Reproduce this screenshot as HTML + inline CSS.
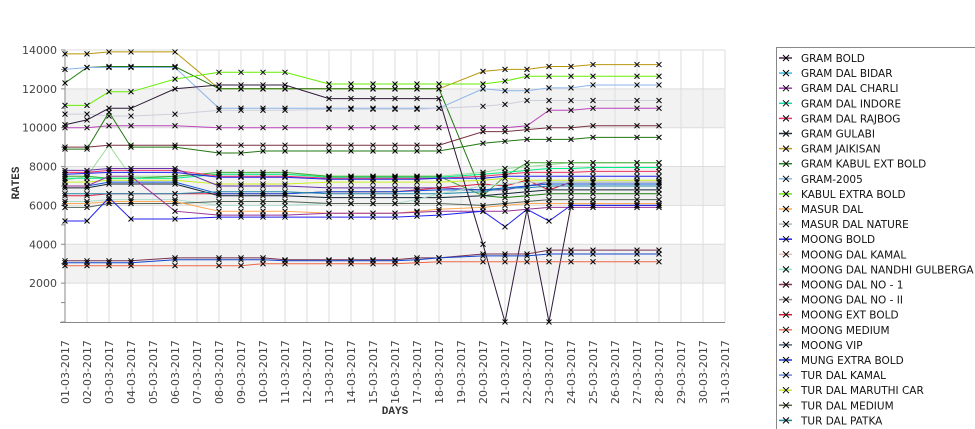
<!DOCTYPE html>
<html><head><meta charset="utf-8">
<style>
html,body{margin:0;padding:0;background:#fff;width:975px;height:429px;overflow:hidden}
svg{display:block;font-family:"DejaVu Sans","Liberation Sans",sans-serif}
</style></head><body>
<svg id="s" width="975" height="429" xmlns="http://www.w3.org/2000/svg"></svg>
<script>
const S=document.getElementById('s');let h='';
const X0=65,DX=22,Y0=322,K=19.43/1000;
const xp=i=>X0+DX*i, yp=v=>Y0-v*K;
// bands
[[2000,4000],[6000,8000],[10000,12000]].forEach(b=>{h+=`<rect x="65" y="${yp(b[1])}" width="660" height="${(b[1]-b[0])*K}" fill="#f2f2f2"/>`});
for(let i=0;i<=30;i++)h+=`<line x1="${xp(i)}" y1="50" x2="${xp(i)}" y2="322" stroke="#dddddd"/>`;
for(let v=2000;v<=14000;v+=2000)h+=`<line x1="65" y1="${yp(v)}" x2="725" y2="${yp(v)}" stroke="#dddddd"/>`;
// axes
h+=`<line x1="65" y1="50" x2="65" y2="322" stroke="#888"/><line x1="60" y1="322.5" x2="725" y2="322.5" stroke="#888"/>`;
for(let v=0;v<=14000;v+=1000){h+=`<line x1="61" y1="${yp(v)}" x2="65" y2="${yp(v)}" stroke="#888"/>`;}
for(let v=2000;v<=14000;v+=2000)h+=`<text x="57" y="${yp(v)+4}" font-size="11" fill="#444" text-anchor="end">${v}</text>`;
h+=`<text transform="translate(19,183) rotate(-90)" font-size="11" font-weight="bold" fill="#333" text-anchor="middle" font-family="Liberation Mono,monospace">RATES</text>`;
h+=`<text x="395" y="414" font-size="11" font-weight="bold" fill="#333" text-anchor="middle" font-family="Liberation Mono,monospace">DAYS</text>`;
for(let i=0;i<31;i++){const d=String(i+1).padStart(2,'0');h+=`<text transform="translate(${xp(i)+4},404) rotate(-90)" font-size="11" fill="#444">${d}-03-2017</text>`;}
const I=[0,1,2,3,5,7,8,9,10,12,13,14,15,16,17,19,20,21,22,23,24,26,27];
function ser(c,a){let p=a.map((v,k)=>xp(I[k])+','+yp(v).toFixed(1)).join(' ');h+=`<polyline points="${p}" fill="none" stroke="${c}" stroke-width="1"/>`;
a.forEach((v,k)=>{const x=xp(I[k]),y=yp(v);h+=`<path d="M${x-2.5} ${y-2.5}L${x+2.5} ${y+2.5}M${x-2.5} ${y+2.5}L${x+2.5} ${y-2.5}" stroke="#000" stroke-width="1"/>`;});}
const F=(a,n)=>a.concat(Array(23-a.length).fill(a[a.length-1]));
ser('#b8960c',[13800,13800,13900,13900,13900,12000,12000,12000,12000,12000,12000,12000,12000,12000,12000,12900,13000,13000,13150,13150,13250,13250,13250]);
ser('#1e7a0e',[12300,13100,13150,13150,13150,12000,12000,12000,12000,12000,12000,12000,12000,12000,12000,6500,6400,6500,6600,6600,6600,6600,6600]);
ser('#8ab4e8',[13000,13100,13100,13100,13100,11000,11000,11000,11000,11000,11000,11000,11000,11000,11000,12000,11900,11900,12050,12050,12200,12200,12200]);
ser('#66ee00',[11150,11150,11850,11850,12500,12850,12850,12850,12850,12250,12250,12250,12250,12250,12250,12250,12400,12650,12650,12650,12650,12650,12650]);
ser('#cccfdd',[10700,10700,10600,10600,10700,10900,10900,10900,10900,10950,10950,10950,10950,10950,11000,11100,11200,11400,11400,11400,11400,11400,11400]);
ser('#bb44bb',F([10000,10000,10100,10100,10100,10000,10000,10000,10000,10000,10000,10000,10000,10000,10000,10000,10000,10100,10900,10900,11000]));
ser('#7a3040',F([9000,9000,9100,9100,9100,9100,9100,9100,9100,9100,9100,9100,9100,9100,9100,9800,9800,9900,10000,10000,10100]));
ser('#227711',F([8900,8900,10800,9000,9000,8700,8700,8800,8800,8800,8800,8800,8800,8800,8800,9200,9300,9400,9400,9400,9500]));
ser('#99dd99',F([7300,7500,9100,7500,7500,7600,7600,7600,7600,7500,7500,7500,7500,7500,7500,7700,7900,8000,8100,8200,8200]));
ser('#44aa33',F([7500,7500,7400,7400,7500,7700,7700,7700,7700,7500,7500,7500,7500,7500,7500,6500,7500,8200,8200,8200,8200]));
ser('#00ee88',F([7400,7400,7400,7400,7400,7600,7600,7600,7600,7450,7450,7450,7450,7450,7450,7600,7700,7800,7900,7900,7950]));
ser('#ee3366',F([7700,7700,7800,7800,7800,7500,7500,7500,7500,7400,7400,7400,7400,7400,7400,7500,7600,7700,7700,7700,7750]));
ser('#2222ee',F([7600,7650,7700,7700,7700,7450,7450,7450,7450,7350,7350,7350,7350,7350,7400,7400,7500,7500,7500,7500,7500]));
ser('#ccee22',F([7200,7200,7300,7300,7300,7100,7100,7100,7100,7200,7200,7200,7200,7200,7200,7300,7400,7300,7300,7300,7300]));
ser('#6633aa',F([7800,7800,7900,7900,7900,7000,7000,7000,7000,6900,6900,6900,6900,6900,6900,6800,6800,7000,7200,7200,7200]));
ser('#dd2244',F([6500,6500,6600,6600,6600,6600,6600,6600,6600,6700,6700,6700,6700,6800,6900,7100,7000,7300,6800,7200,7200]));
ser('#1155dd',F([7000,7000,7200,7200,7200,6600,6600,6600,6600,6700,6700,6700,6700,6750,6800,6800,6900,7000,7100,7100,7100]));
ser('#112233',F([6900,6900,7100,7100,7100,6500,6500,6500,6500,6400,6400,6400,6400,6400,6400,6500,6600,6700,6800,6800,6800]));
ser('#2288aa',F([6600,6600,6600,6600,6600,6700,6700,6700,6700,6600,6600,6600,6600,6600,6600,6700,6900,6900,7000,7000,7000]));
ser('#aaddcc',F([6200,6200,6300,6300,6300,6000,6000,6000,6000,6100,6100,6100,6100,6300,6600,7000,7100,7200,7200,7200,7200]));
ser('#556655',F([5900,5900,6100,6100,6100,6200,6200,6200,6200,6100,6100,6100,6100,6100,6100,6000,6100,6200,6300,6300,6300]));
ser('#ffaa55',F([6100,6100,6200,6200,6200,5700,5700,5700,5700,5600,5600,5600,5600,5700,5800,5900,6000,6100,6100,6100,6100]));
ser('#993399',F([7000,7000,7500,7500,5700,5500,5500,5500,5500,5600,5600,5600,5600,5650,5700,5700,5700,5800,5900,5900,5900]));
ser('#2e1a3a',[10150,10400,11000,11000,12000,12200,12200,12200,12200,11500,11500,11500,11500,11500,11500,4000,0,5800,0,6000,6000,6000,6000]);
ser('#2222ee',F([5200,5200,6400,5300,5300,5400,5400,5400,5400,5400,5400,5400,5400,5450,5500,5700,4900,5800,5200,6000,6000]));
ser('#7a3050',F([3150,3150,3150,3150,3300,3300,3300,3300,3200,3200,3200,3200,3200,3300,3300,3500,3500,3500,3700,3700,3700]));
ser('#1144cc',F([3050,3050,3050,3050,3200,3200,3200,3200,3150,3150,3150,3150,3150,3200,3300,3400,3400,3400,3500,3500,3500]));
ser('#ee6644',F([2900,2900,2900,2900,2900,2900,2900,3000,3000,3000,3000,3000,3000,3050,3100,3100,3100,3100,3100,3100,3100]));
// legend
h+=`<rect x="776.5" y="47.5" width="220" height="400" fill="#fff" stroke="#888"/>`;
const L=[['GRAM BOLD','#4a2a4a'],['GRAM DAL BIDAR','#33bbdd'],['GRAM DAL CHARLI','#aa33bb'],['GRAM DAL INDORE','#11ddaa'],['GRAM DAL RAJBOG','#ee3377'],['GRAM GULABI','#223344'],['GRAM JAIKISAN','#bb9922'],['GRAM KABUL EXT BOLD','#228822'],['GRAM-2005','#88bbee'],['KABUL EXTRA BOLD','#66ee00'],['MASUR DAL','#ffaa55'],['MASUR DAL NATURE','#aabbbb'],['MOONG BOLD','#2222ee'],['MOONG DAL KAMAL','#eebbbb'],['MOONG DAL NANDHI GULBERGA','#88eecc'],['MOONG DAL NO - 1','#883355'],['MOONG DAL NO - II','#998888'],['MOONG EXT BOLD','#dd1133'],['MOONG MEDIUM','#ee7755'],['MOONG VIP','#556677'],['MUNG EXTRA BOLD','#1133dd'],['TUR DAL KAMAL','#6688dd'],['TUR DAL MARUTHI CAR','#ccee22'],['TUR DAL MEDIUM','#556644'],['TUR DAL PATKA','#228899']];
L.forEach((l,k)=>{const y=58+k*15.1;h+=`<line x1="779" y1="${y}" x2="792" y2="${y}" stroke="${l[1]}" stroke-width="1.5"/><path d="M783 ${y-3}L789 ${y+3}M783 ${y+3}L789 ${y-3}" stroke="#000"/><text x="801" y="${y+4}" font-size="10.5" fill="#111">${l[0]}</text>`;});
S.innerHTML=h;
</script>
</body></html>
